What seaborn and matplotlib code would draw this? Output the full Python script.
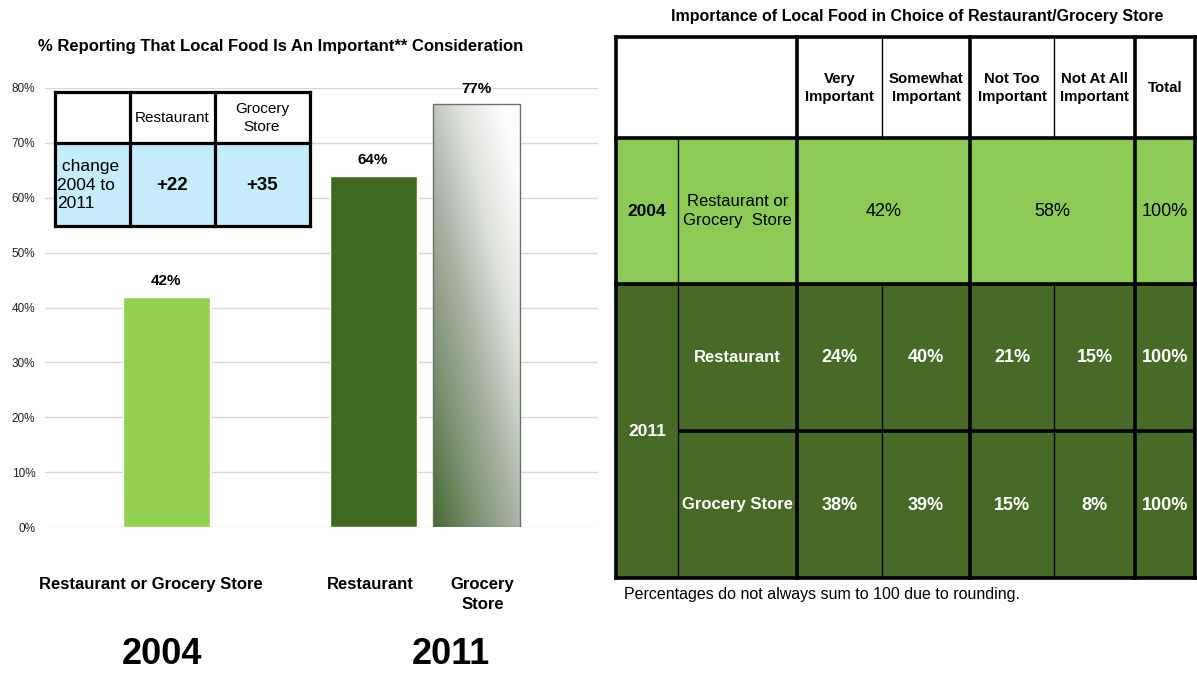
import numpy as np
import pandas as pd
import matplotlib.pyplot as plt
import matplotlib.colors as mcolors
from matplotlib.patches import Rectangle
from matplotlib.transforms import ScaledTranslation
import seaborn as sns

# Data: left chart
bar_labels = ['Restaurant or Grocery Store', 'Restaurant', 'Grocery\nStore']
bar_values = [42, 64, 77]
bar_years = ['2004', '2011', '2011']
slot_order = ['Restaurant or Grocery Store', ' ', 'Restaurant', 'Grocery\nStore']

# Data: right table
table_title = 'Importance of Local Food in Choice of Restaurant/Grocery Store'
col_headers = ['Very\nImportant', 'Somewhat\nImportant', 'Not Too\nImportant', 'Not At All\nImportant', 'Total']
row_2004_label = 'Restaurant or\nGrocery  Store'
row_2004_values = [42, 58, 100]          # important (merged), not important (merged), total
rows_2011_labels = ['Restaurant', 'Grocery Store']
rows_2011_values = [[24, 40, 21, 15, 100],
                    [38, 39, 15, 8, 100]]

LIGHT = '#92D050'
DARK = '#3F6A20'
TBL_LIGHT = '#8BCB55'
TBL_DARK = '#476B27'
BLUE = '#C5ECFB'

sns.set_style('white')
plt.rcParams['font.family'] = ['Liberation Sans', 'DejaVu Sans']
plt.rcParams['text.color'] = 'black'
plt.rcParams['xtick.color'] = 'black'
plt.rcParams['ytick.color'] = 'black'

fig = plt.figure(figsize=(11.97, 6.73), dpi=100)
W, H = 1197, 673

# ---------- left bar chart ----------
ax = fig.add_axes([45 / W, (H - 527) / H, 553 / W, 439 / H])
df = pd.DataFrame({'group': bar_labels, 'value': bar_values})
sns.barplot(data=df, x='group', y='value', order=slot_order, hue='group',
            palette={bar_labels[0]: LIGHT, bar_labels[1]: DARK, bar_labels[2]: '#ffffff'},
            width=0.842, legend=False, ax=ax, saturation=1, zorder=3)

ax.set_ylim(0, 80)
ax.set_yticks(range(0, 81, 10))
ax.set_yticklabels([f'{v}%' for v in range(0, 81, 10)], fontsize=8.5, color='#222222')
ax.yaxis.grid(True, color='#D9D9D9', lw=1)
ax.set_axisbelow(True)
for s in ax.spines.values():
    s.set_visible(False)
ax.tick_params(axis='both', length=0)
ax.tick_params(axis='y', pad=7)
ax.tick_params(axis='x', pad=36)
label_shift = [-16, 0, -3, 6]   # px nudges of the category labels
for t, dx in zip(ax.get_xticklabels(), label_shift):
    t.set_fontweight('bold')
    t.set_fontsize(12)
    t.set_linespacing(1.45)
    t.set_transform(t.get_transform() + ScaledTranslation(dx / 100, 0, fig.dpi_scale_trans))
ax.set_xlabel('')
ax.set_ylabel('')

# gradient fill for the grocery store bar
cmap = mcolors.LinearSegmentedColormap.from_list(
    'grad', [(0, '#466b30'), (0.25, '#7d9272'), (0.5, '#aab5a5'),
             (0.75, '#dfe3dc'), (1, '#fdfdfd')])
for p in ax.patches:
    if p.get_height() == bar_values[2]:
        x0, w, h = p.get_x(), p.get_width(), p.get_height()
        u = np.linspace(0, 1, 60)[None, :]
        v = np.linspace(0, 1, 300)[:, None]
        tt = np.clip(0.5 * u + 0.6 * v, 0, 1)
        ax.imshow(cmap(tt), extent=[x0, x0 + w, 0, h], origin='lower',
                  aspect='auto', zorder=3, interpolation='bilinear')
        p.set_facecolor('none')
        p.set_edgecolor('#6f6f6f')
        p.set_linewidth(1)
        p.set_zorder(4)

ax.set_xlim(-1.176, 4.177)
ax.set_ylim(0, 80)

for c in ax.containers:
    ax.bar_label(c, fmt='%d%%', padding=6, fontweight='bold', fontsize=11)

# ---------- overlay (titles, tables) ----------
ov = fig.add_axes([0, 0, 1, 1], zorder=5)
ov.set_xlim(0, W)
ov.set_ylim(H, 0)
ov.axis('off')

ov.text(281, 47, '% Reporting That Local Food Is An Important** Consideration',
        ha='center', va='center', fontsize=12, fontweight='bold')
ov.text(162, 655, bar_years[0], ha='center', va='center', fontsize=26, fontweight='bold')
ov.text(451, 655, bar_years[1], ha='center', va='center', fontsize=26, fontweight='bold')

# inset change table
cx = [55, 130, 215, 310]
cy = [92, 143, 226]
ov.add_patch(Rectangle((cx[0], cy[0]), cx[3] - cx[0], cy[1] - cy[0], fc='white', ec='none'))
ov.add_patch(Rectangle((cx[0], cy[1]), cx[3] - cx[0], cy[2] - cy[1], fc=BLUE, ec='none'))
for x in cx:
    ov.plot([x, x], [cy[0], cy[2]], color='black', lw=2.3, solid_capstyle='projecting')
for y in cy:
    ov.plot([cx[0], cx[3]], [y, y], color='black', lw=2.3, solid_capstyle='projecting')
ov.text(172, 118, 'Restaurant', ha='center', va='center', fontsize=11)
ov.text(262, 118, 'Grocery\nStore', ha='center', va='center', fontsize=11, linespacing=1.35)
ov.text(57, 185, ' change\n2004 to\n2011', ha='left', va='center', fontsize=12.5,
        linespacing=1.3)
changes = [bar_values[1] - bar_values[0], bar_values[2] - bar_values[0]]
ov.text(172, 185, f'+{changes[0]}', ha='center', va='center', fontsize=13.5, fontweight='bold')
ov.text(262, 185, f'+{changes[1]}', ha='center', va='center', fontsize=13.5, fontweight='bold')

# right table
ov.text(917, 17, table_title, ha='center', va='center', fontsize=11.5, fontweight='bold')
L, R = 616, 1195
T, B = 37, 578
xs = [616, 678, 797, 882, 970, 1054, 1135, 1195]
yh, y04, ymid = 138, 284, 431
ov.add_patch(Rectangle((L, T), R - L, yh - T, fc='white', ec='none'))
ov.add_patch(Rectangle((L, yh), R - L, y04 - yh, fc=TBL_LIGHT, ec='none'))
ov.add_patch(Rectangle((L, y04), R - L, B - y04, fc=TBL_DARK, ec='none'))

thick = dict(color='black', lw=2.6, solid_capstyle='projecting')
thin = dict(color='black', lw=1.0)
ov.plot([xs[1], xs[1]], [yh, B], **thin)
for x in (xs[3], xs[5]):
    ov.plot([x, x], [T, yh], **thin)
    ov.plot([x, x], [y04, B], **thin)
for x in (L, xs[2], xs[4], xs[6], R):
    ov.plot([x, x], [T, B], **thick)
for y in (T, yh, y04, B):
    ov.plot([L, R], [y, y], **thick)
ov.plot([xs[1], R], [ymid, ymid], color='black', lw=2.6, solid_capstyle='butt')

col_centers = [(xs[i] + xs[i + 1]) / 2 for i in range(2, 7)]
for xc, lab in zip(col_centers, col_headers):
    ov.text(xc, 88, lab, ha='center', va='center', fontsize=10.8, fontweight='bold',
            linespacing=1.35)

ry = (yh + y04) / 2
ov.text((xs[0] + xs[1]) / 2, ry, '2004', ha='center', va='center', fontsize=12.5, fontweight='bold')
ov.text((xs[1] + xs[2]) / 2, ry, row_2004_label, ha='center', va='center', fontsize=12,
        linespacing=1.4)
merged_centers = [(xs[2] + xs[4]) / 2, (xs[4] + xs[6]) / 2, (xs[6] + xs[7]) / 2]
for xc, v in zip(merged_centers, row_2004_values):
    ov.text(xc, ry, f'{v}%', ha='center', va='center', fontsize=13)

ov.text((xs[0] + xs[1]) / 2, ymid, '2011', ha='center', va='center', fontsize=12.5,
        fontweight='bold', color='white')
row_ys = [358, 505]
for yy, lab, vals in zip(row_ys, rows_2011_labels, rows_2011_values):
    ov.text((xs[1] + xs[2]) / 2, yy, lab, ha='center', va='center', fontsize=12,
            fontweight='bold', color='white')
    for xc, v in zip(col_centers, vals):
        ov.text(xc, yy, f'{v}%', ha='center', va='center', fontsize=13,
                fontweight='bold', color='white')

ov.text(624, 595, 'Percentages do not always sum to 100 due to rounding.',
        ha='left', va='center', fontsize=11.5)

fig.savefig('out.png', dpi=100)
